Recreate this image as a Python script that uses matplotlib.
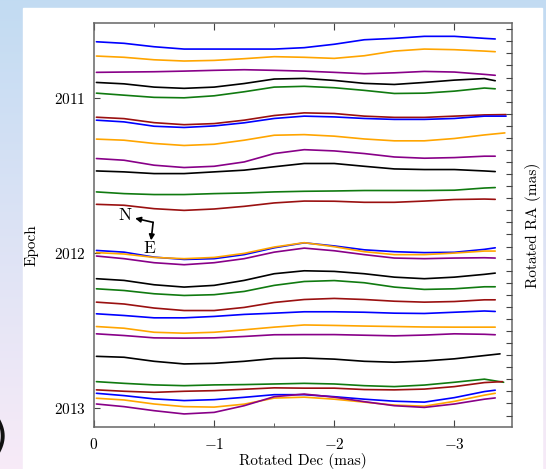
import numpy as np
import matplotlib
matplotlib.use("Agg")
import matplotlib.pyplot as plt
from matplotlib.patches import Rectangle

plt.rcParams["font.family"] = ["cmr10"]
plt.rcParams["mathtext.fontset"] = "cm"
plt.rcParams["axes.formatter.use_mathtext"] = True

# ---- data ----
EPOCH0 = 2011.0
dec_grid = [-0.02, -0.25, -0.5, -0.75, -1.0, -1.25, -1.5, -1.75,
            -2.0, -2.25, -2.5, -2.75, -3.0, -3.25]
# last point of each track (rotated Dec, mas)
dec_end = [-3.34, -3.34, -3.34, -3.34, -3.34, -3.43, -3.43, -3.42, -3.34,
           -3.34, -3.34, -3.34, -3.34, -3.34, -3.34, -3.34, -3.34, -3.34,
           -3.34, -3.34, -3.34, -3.38, -3.41, -3.40, -3.34, -3.34, -3.34]
track_colors = ["#0000ff", "#ffa500", "#880088", "#000000", "#107a10", "#9a1010"]

# epoch offset from 2011 (track position + rotated RA), 14 grid points + end point
tracks = [
    [-0.361, -0.351, -0.329, -0.314, -0.314, -0.314, -0.314, -0.323, -0.345, -0.374, -0.383, -0.396, -0.396, -0.383, -0.379],
    [-0.269, -0.261, -0.245, -0.237, -0.241, -0.252, -0.265, -0.261, -0.254, -0.271, -0.301, -0.314, -0.310, -0.301, -0.297],
    [-0.164, -0.166, -0.168, -0.172, -0.177, -0.181, -0.177, -0.172, -0.164, -0.155, -0.161, -0.170, -0.166, -0.151, -0.145],
    [-0.099, -0.090, -0.069, -0.061, -0.069, -0.092, -0.121, -0.125, -0.112, -0.093, -0.086, -0.099, -0.114, -0.124, -0.110],
    [-0.030, -0.017, -0.003, 0.000, -0.013, -0.039, -0.069, -0.074, -0.065, -0.048, -0.028, -0.030, -0.043, -0.063, -0.058],
    [0.125, 0.134, 0.160, 0.173, 0.166, 0.144, 0.114, 0.097, 0.101, 0.118, 0.126, 0.126, 0.118, 0.110, 0.108],
    [0.144, 0.155, 0.183, 0.191, 0.181, 0.161, 0.133, 0.118, 0.123, 0.133, 0.139, 0.139, 0.133, 0.118, 0.118],
    [0.266, 0.273, 0.294, 0.307, 0.299, 0.273, 0.241, 0.237, 0.247, 0.265, 0.277, 0.277, 0.262, 0.239, 0.226],
    [0.391, 0.402, 0.434, 0.449, 0.441, 0.413, 0.359, 0.334, 0.342, 0.359, 0.381, 0.389, 0.385, 0.376, 0.376],
    [0.471, 0.477, 0.488, 0.488, 0.477, 0.466, 0.444, 0.423, 0.423, 0.441, 0.458, 0.462, 0.462, 0.471, 0.475],
    [0.606, 0.617, 0.623, 0.623, 0.617, 0.613, 0.606, 0.602, 0.600, 0.597, 0.597, 0.597, 0.595, 0.581, 0.578],
    [0.686, 0.692, 0.714, 0.725, 0.716, 0.699, 0.677, 0.665, 0.666, 0.673, 0.673, 0.665, 0.655, 0.652, 0.654],
    [0.983, 0.994, 1.026, 1.041, 1.036, 1.010, 0.966, 0.934, 0.954, 0.979, 0.991, 0.997, 0.995, 0.976, 0.966],
    [0.997, 1.006, 1.028, 1.036, 1.028, 1.002, 0.961, 0.933, 0.959, 0.991, 1.010, 1.010, 1.000, 0.987, 0.987],
    [1.019, 1.036, 1.062, 1.075, 1.062, 1.036, 0.994, 0.968, 0.985, 1.010, 1.032, 1.036, 1.032, 1.030, 1.032],
    [1.165, 1.176, 1.204, 1.219, 1.208, 1.176, 1.133, 1.114, 1.118, 1.133, 1.155, 1.165, 1.155, 1.137, 1.129],
    [1.230, 1.241, 1.262, 1.273, 1.268, 1.247, 1.208, 1.183, 1.177, 1.191, 1.219, 1.234, 1.230, 1.217, 1.217],
    [1.316, 1.328, 1.354, 1.370, 1.370, 1.350, 1.318, 1.299, 1.292, 1.299, 1.310, 1.316, 1.312, 1.301, 1.301],
    [1.391, 1.402, 1.417, 1.417, 1.408, 1.395, 1.387, 1.378, 1.378, 1.381, 1.387, 1.389, 1.381, 1.373, 1.376],
    [1.473, 1.484, 1.510, 1.516, 1.510, 1.494, 1.477, 1.463, 1.466, 1.470, 1.473, 1.476, 1.477, 1.477, 1.477],
    [1.520, 1.531, 1.546, 1.548, 1.546, 1.537, 1.526, 1.525, 1.525, 1.529, 1.533, 1.528, 1.520, 1.523, 1.526],
    [1.665, 1.671, 1.697, 1.714, 1.710, 1.697, 1.679, 1.676, 1.683, 1.697, 1.703, 1.695, 1.681, 1.660, 1.649],
    [1.828, 1.839, 1.849, 1.854, 1.849, 1.847, 1.843, 1.839, 1.843, 1.854, 1.860, 1.850, 1.832, 1.812, 1.832],
    [1.881, 1.890, 1.897, 1.890, 1.886, 1.877, 1.868, 1.870, 1.870, 1.879, 1.881, 1.876, 1.860, 1.834, 1.828],
    [1.903, 1.918, 1.939, 1.950, 1.944, 1.929, 1.912, 1.912, 1.925, 1.941, 1.954, 1.960, 1.931, 1.892, 1.883],
    [1.935, 1.946, 1.972, 1.989, 1.992, 1.973, 1.934, 1.928, 1.941, 1.960, 1.979, 1.986, 1.955, 1.915, 1.903],
    [1.972, 1.989, 2.015, 2.036, 2.026, 1.983, 1.925, 1.908, 1.928, 1.957, 1.983, 1.994, 1.972, 1.941, 1.933],
]

epoch_ticks = [2011, 2012, 2013]
dec_ticks = [0, -1, -2, -3]
dec_minor = [-0.5, -1.5, -2.5]
n_ra_ticks = 33

# ---- figure ----
fig = plt.figure(figsize=(5.46, 4.69), dpi=100)

# slide-style backdrop: blue->pink gradient with a white panel
bg = fig.add_axes([0, 0, 1, 1], zorder=-10)
bg.axis("off")
g = np.linspace(0, 1, 256)[:, None, None]
c_top = np.array([0.76, 0.86, 0.95])
c_bot = np.array([0.97, 0.92, 0.97])
bg.imshow(c_top * (1 - g) + c_bot * g, aspect="auto", extent=[0, 1, 0, 1])
bg.add_patch(Rectangle((23 / 546, 0), 519 / 546, 461 / 469, color="white"))
bg.set_xlim(0, 1); bg.set_ylim(0, 1)
bg.text(8 / 546, 31 / 469, ")", fontsize=30, ha="right", va="center",
        family="DejaVu Sans", color="#111111")

ax = fig.add_axes([0.1722, 0.0896, 0.7656, 0.8614])
for i, tr in enumerate(tracks):
    x = dec_grid + [dec_end[i]]
    y = [EPOCH0 + v for v in tr]
    ax.plot(x, y, color=track_colors[i % len(track_colors)], lw=1.2,
            solid_capstyle="round", solid_joinstyle="round")

ax.set_xlim(0, -3.48)
ax.set_ylim(2013.12, 2010.518)
ax.set_xticks(dec_ticks)
ax.set_xticks(dec_minor, minor=True)
ax.set_yticks(epoch_ticks)
ax.tick_params(axis="x", which="both", direction="in", top=True, labelsize=11,
               pad=7, color="#444444")
ax.tick_params(axis="x", which="major", length=5)
ax.tick_params(axis="x", which="minor", length=3)
ax.tick_params(axis="y", direction="in", length=4.5, right=False, labelsize=11,
               pad=6, color="#444444")
for s in ax.spines.values():
    s.set_color("#666666"); s.set_linewidth(1.1)

ax.set_xlabel("Rotated Dec (mas)", fontsize=11, labelpad=1)
ax.set_ylabel("Epoch", fontsize=11)
ax.yaxis.set_label_coords(-0.132, 0.45)

# rotated RA scale on the right (ticks only)
ax2 = ax.twinx()
ax2.set_ylim(32.95, -0.52)
ax2.set_yticks(range(n_ra_ticks))
ax2.tick_params(axis="y", direction="in", length=4.5, labelright=False,
                color="#444444")
ax2.set_ylabel("Rotated RA (mas)", fontsize=11, labelpad=9)
for s in ax2.spines.values():
    s.set_visible(False)

# N/E compass
corner = (-0.492, 2011.802)
ax.annotate("", xy=(-0.342, 2011.776), xytext=corner,
            arrowprops=dict(arrowstyle="-|>", lw=1.2, color="k", mutation_scale=8,
                            shrinkA=0, shrinkB=0))
ax.annotate("", xy=(-0.475, 2011.918), xytext=corner,
            arrowprops=dict(arrowstyle="-|>", lw=1.2, color="k", mutation_scale=8,
                            shrinkA=0, shrinkB=0))
ax.text(-0.258, 2011.757, "N", fontsize=12.5, ha="center", va="center")
ax.text(-0.458, 2011.970, "E", fontsize=12.5, ha="center", va="center")

fig.savefig("out.png", dpi=100)
